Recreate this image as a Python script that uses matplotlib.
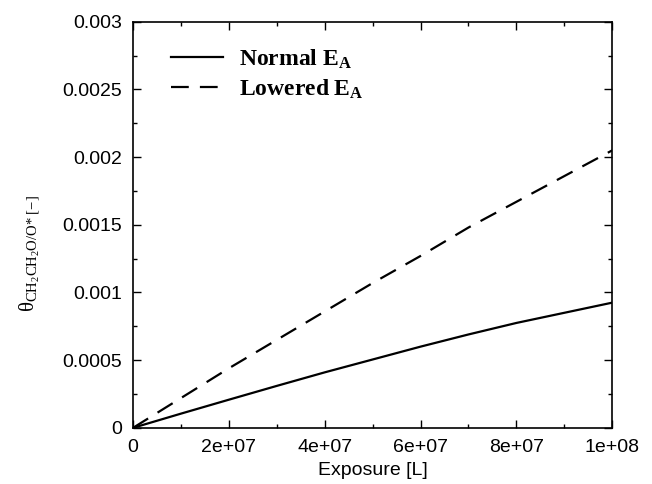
import numpy as np
import matplotlib
matplotlib.use("Agg")
import matplotlib.pyplot as plt
from matplotlib.ticker import MultipleLocator

plt.rcParams['font.family'] = ['Liberation Sans', 'DejaVu Sans']
plt.rcParams['mathtext.fontset'] = 'custom'
plt.rcParams['mathtext.rm'] = 'Liberation Serif'
plt.rcParams['mathtext.it'] = 'Liberation Serif:italic'
plt.rcParams['mathtext.bf'] = 'Liberation Serif:bold'

# data
exposure = [0, 1e7, 2e7, 3e7, 4e7, 5e7, 6e7, 7e7, 8e7, 9e7, 1e8]
normal_ea = [0, 0.000105, 0.000208, 0.00031, 0.00041, 0.000505, 0.0006,
             0.00069, 0.000775, 0.00085, 0.000925]
lowered_ea = [0, 0.00022, 0.00044, 0.00065, 0.00086, 0.00107, 0.00127,
              0.00148, 0.00167, 0.00186, 0.00205]

fig = plt.figure(figsize=(6.52, 4.84), dpi=100)
ax = fig.add_axes([0.204, 0.116, 0.735, 0.839])

ax.plot(exposure, normal_ea, color='black', lw=1.6, label=r'$\mathbf{Normal\ E_A}$')
ax.plot(exposure, lowered_ea, color='black', lw=1.6, ls=(0, (8, 5)),
        label=r'$\mathbf{Lowered\ E_A}$')

ax.set_xlim(0, 1e8)
ax.set_ylim(0, 0.003)
ax.xaxis.set_minor_locator(MultipleLocator(1e7))
ax.yaxis.set_minor_locator(MultipleLocator(0.00025))

xt = [0, 2e7, 4e7, 6e7, 8e7, 1e8]
ax.set_xticks(xt)
ax.set_xticklabels(['0', '2e+07', '4e+07', '6e+07', '8e+07', '1e+08'])
yt = [0, 0.0005, 0.001, 0.0015, 0.002, 0.0025, 0.003]
ax.set_yticks(yt)
ax.set_yticklabels(['0', '0.0005', '0.001', '0.0015', '0.002', '0.0025', '0.003'])

ax.tick_params(which='both', direction='in', top=True, right=True, labelsize=14, pad=8)
ax.tick_params(which='major', length=6, width=1)
ax.tick_params(which='minor', length=3, width=1)
for s in ax.spines.values():
    s.set_linewidth(1.2)

ax.set_xlabel('Exposure [L]', fontsize=14, labelpad=4)
ax.set_ylabel('$\\mathrm{θ}_{\\mathrm{CH_2CH_2O/O{*}\\ [-]}}$', fontsize=15)
ax.yaxis.set_label_coords(-0.19, 0.43)

leg = ax.legend(loc='upper left', frameon=False, fontsize=17, handlelength=2.2,
                handletextpad=0.68, borderaxespad=0.3, bbox_to_anchor=(0.044, 0.978),
                labelspacing=0.3)

fig.savefig('out.png', dpi=100)
